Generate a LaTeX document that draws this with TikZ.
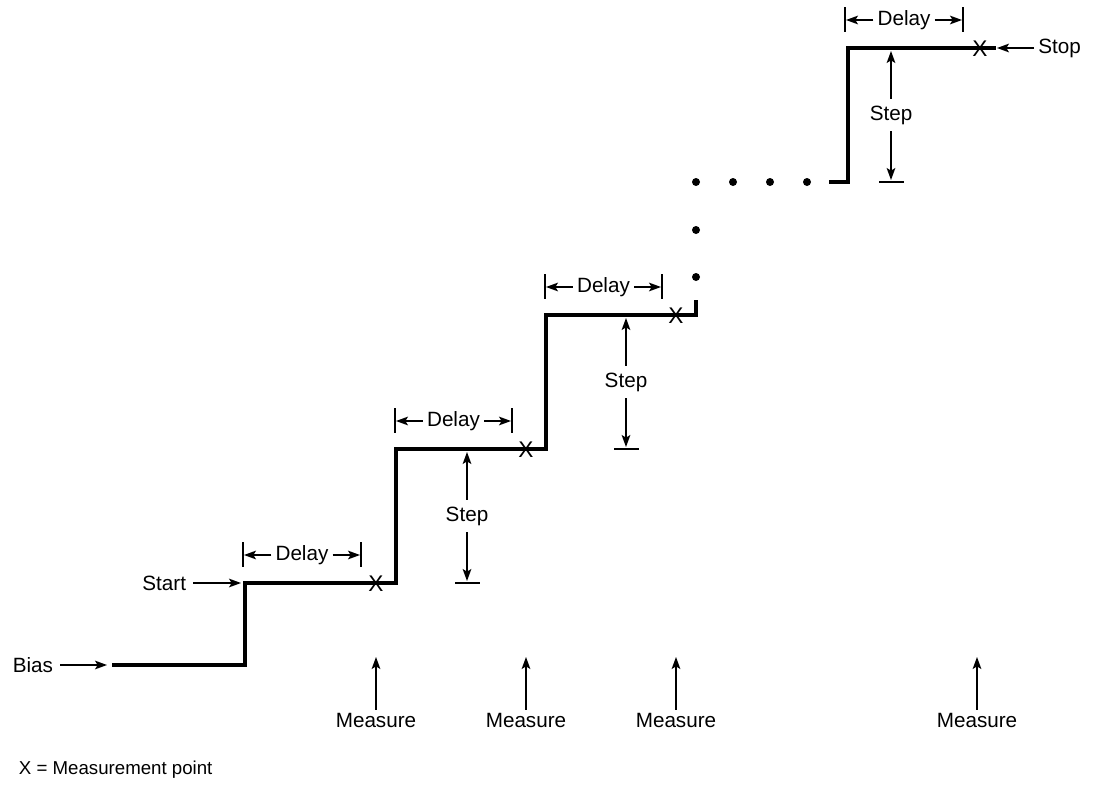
\documentclass[tikz,border=0pt]{standalone}
\usepackage{fontspec}
\setmainfont{Liberation Sans}
\usetikzlibrary{arrows.meta,positioning}
\tikzset{
  stair/.style={line width=2.6pt},
  arrow/.style={-{Stealth[length=9pt,width=6.5pt,inset=2pt]},line width=1pt},
  tick/.style={line width=1pt},
  lbl/.style={font=\fontsize{15.5}{18}\selectfont,inner sep=2pt},
  xpt/.style={font=\fontsize{17}{19}\selectfont,inner sep=0pt},
  dot/.style={circle,fill,inner sep=0pt,minimum size=6pt},
}

\begin{document}
\begin{tikzpicture}[x=0.75pt,y=-0.75pt]
\useasboundingbox (0,0) rectangle (1097,789);

% staircase
\draw[stair] (112,665) -- (245,665) -- (245,583) -- (396,583) -- (396,449)
  -- (546,449) -- (546,315) -- (696,315) -- (696,300);
\draw[stair] (829,182) -- (848,182) -- (848,48) -- (996,48);
\foreach \p in {(696,277),(696,230),(696,182),(733,182),(770,182),(807,182)}
  \node[dot] at \p {};

% measurement points
\node[xpt] (x1) at (376,584) {X};
\node[xpt] (x2) at (526,450) {X};
\node[xpt] (x3) at (676,316) {X};
\node[xpt] (x4) at (980,49) {X};

% start / stop / bias
\node[lbl,anchor=east,inner sep=5pt] (bias) at (60,665) {Bias};
\coordinate (biastip) at (107,665);
\draw[arrow] (bias) -- (biastip);
\node[lbl,anchor=east,inner sep=5pt] (start) at (193,583) {Start};
\coordinate (starttip) at (241,583);
\draw[arrow] (start) -- (starttip);
\node[lbl,anchor=west,inner sep=3pt] (stop) at (1034,48) {Stop};
\coordinate (stoptip) at (997,48);
\draw[arrow] (stop) -- (stoptip);

% delay dimensions
\foreach \n/\a/\b/\y in {1/243/361/583, 2/395/512/449, 3/545/662/315, 4/845/963/48}{
  \draw[tick] (\a,\y-41) -- (\a,\y-16);
  \draw[tick] (\b,\y-41) -- (\b,\y-16);
  \node[lbl,inner sep=3pt] (dl\n) at ({(\a+\b)/2},\y-28) {Delay};
  \draw[arrow] (dl\n) -- (\a+1,\y-28);
  \draw[arrow] (dl\n) -- (\b-1,\y-28);
}

% step dimensions
\foreach \n/\x/\top/\bot in {1/467/449/583, 2/626/315/449, 3/891/48/182}{
  \node[lbl,inner sep=5pt] (st\n) at (\x,{(\top+\bot)/2}) {Step};
  \draw[arrow] (st\n) -- (\x,\top+3);
  \draw[arrow] (st\n) -- (\x,\bot-2);
  \draw[tick] (\x-12,\bot) -- (\x+13,\bot);
}

% measure arrows
\foreach \n/\x in {1/376, 2/526, 3/676, 4/977}{
  \node[lbl] (ms\n) at (\x,720) {Measure};
  \draw[arrow] (ms\n) -- (\x,657);
}

\node[lbl,anchor=west,font=\fontsize{14}{16}\selectfont] (key) at (16,770) {X = Measurement point};
\end{tikzpicture}
\end{document}
